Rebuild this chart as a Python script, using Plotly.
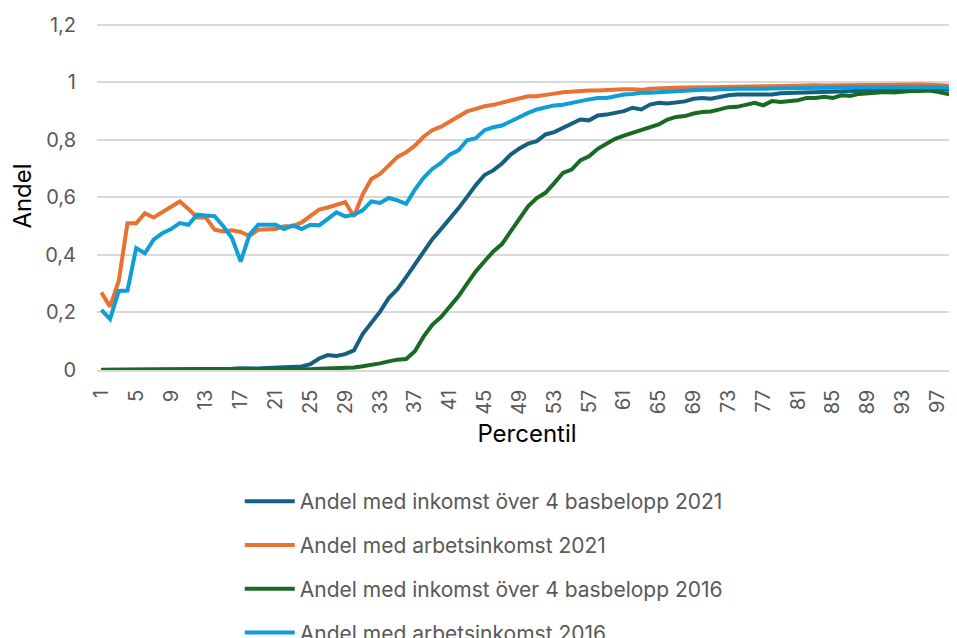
import plotly.graph_objects as go

percentil = list(range(1, 101))

inkomst_4bb_2021 = [
    0.001, 0.001, 0.001, 0.001, 0.001, 0.001, 0.001, 0.001, 0.002, 0.002,
    0.003, 0.002, 0.003, 0.003, 0.004, 0.004, 0.006, 0.005, 0.005, 0.007,
    0.008, 0.008, 0.010, 0.012, 0.020, 0.040, 0.052, 0.049, 0.055, 0.068,
    0.125, 0.163, 0.203, 0.250, 0.281, 0.323, 0.368, 0.410, 0.455, 0.490,
    0.525, 0.562, 0.602, 0.643, 0.678, 0.694, 0.718, 0.749, 0.770, 0.787,
    0.796, 0.819, 0.827, 0.842, 0.854, 0.871, 0.868, 0.885, 0.888, 0.894,
    0.900, 0.912, 0.906, 0.923, 0.929, 0.927, 0.931, 0.934, 0.943, 0.946,
    0.943, 0.950, 0.955, 0.958, 0.958, 0.957, 0.960, 0.958, 0.962, 0.963,
    0.965, 0.966, 0.967, 0.966, 0.968, 0.970, 0.970, 0.972, 0.973, 0.974,
    0.975, 0.976, 0.976, 0.977, 0.978, 0.978, 0.977, 0.976, 0.973, 0.968,
]

arbetsinkomst_2021 = [
    0.270, 0.220, 0.310, 0.510, 0.510, 0.545, 0.530, 0.550, 0.568, 0.586,
    0.560, 0.530, 0.530, 0.488, 0.482, 0.486, 0.480, 0.466, 0.488, 0.490,
    0.490, 0.500, 0.500, 0.513, 0.537, 0.558, 0.565, 0.573, 0.584, 0.534,
    0.610, 0.664, 0.682, 0.711, 0.741, 0.757, 0.780, 0.811, 0.834, 0.846,
    0.865, 0.883, 0.899, 0.908, 0.917, 0.922, 0.929, 0.938, 0.946, 0.952,
    0.952, 0.958, 0.961, 0.966, 0.969, 0.969, 0.972, 0.972, 0.974, 0.974,
    0.976, 0.976, 0.974, 0.978, 0.980, 0.980, 0.981, 0.982, 0.984, 0.983,
    0.983, 0.984, 0.986, 0.986, 0.985, 0.986, 0.987, 0.987, 0.988, 0.988,
    0.988, 0.989, 0.990, 0.989, 0.990, 0.990, 0.991, 0.990, 0.991, 0.991,
    0.992, 0.991, 0.992, 0.992, 0.993, 0.992, 0.991, 0.989, 0.985, 0.978,
]

inkomst_4bb_2016 = [
    0.000, 0.000, 0.000, 0.000, 0.000, 0.000, 0.000, 0.000, 0.000, 0.000,
    0.001, 0.001, 0.001, 0.001, 0.001, 0.001, 0.001, 0.001, 0.001, 0.001,
    0.001, 0.002, 0.002, 0.002, 0.003, 0.004, 0.005, 0.006, 0.007, 0.009,
    0.013, 0.017, 0.023, 0.030, 0.036, 0.038, 0.065, 0.116, 0.157, 0.184,
    0.221, 0.256, 0.300, 0.343, 0.378, 0.412, 0.438, 0.482, 0.523, 0.569,
    0.598, 0.616, 0.650, 0.685, 0.697, 0.729, 0.743, 0.769, 0.787, 0.804,
    0.815, 0.825, 0.834, 0.842, 0.854, 0.871, 0.880, 0.883, 0.892, 0.897,
    0.899, 0.906, 0.914, 0.915, 0.922, 0.929, 0.920, 0.935, 0.932, 0.935,
    0.938, 0.946, 0.946, 0.950, 0.946, 0.955, 0.953, 0.960, 0.962, 0.965,
    0.967, 0.965, 0.968, 0.970, 0.970, 0.972, 0.967, 0.960, 0.955, 0.940,
]

arbetsinkomst_2016 = [
    0.209, 0.177, 0.275, 0.276, 0.424, 0.406, 0.453, 0.476, 0.490, 0.511,
    0.505, 0.540, 0.537, 0.535, 0.500, 0.459, 0.377, 0.470, 0.505, 0.505,
    0.505, 0.490, 0.503, 0.490, 0.505, 0.503, 0.525, 0.548, 0.534, 0.540,
    0.555, 0.586, 0.581, 0.598, 0.590, 0.578, 0.627, 0.668, 0.699, 0.720,
    0.749, 0.764, 0.799, 0.806, 0.834, 0.844, 0.850, 0.865, 0.880, 0.894,
    0.906, 0.912, 0.920, 0.922, 0.927, 0.935, 0.941, 0.946, 0.946, 0.952,
    0.958, 0.960, 0.964, 0.964, 0.966, 0.967, 0.969, 0.972, 0.972, 0.974,
    0.974, 0.976, 0.977, 0.978, 0.978, 0.977, 0.978, 0.979, 0.979, 0.980,
    0.980, 0.981, 0.981, 0.982, 0.981, 0.982, 0.983, 0.983, 0.984, 0.984,
    0.984, 0.985, 0.985, 0.985, 0.986, 0.985, 0.984, 0.982, 0.978, 0.970,
]

series = [
    ("Andel med inkomst över 4 basbelopp 2021", inkomst_4bb_2021, "#156082"),
    ("Andel med arbetsinkomst 2021", arbetsinkomst_2021, "#E97132"),
    ("Andel med inkomst över 4 basbelopp 2016", inkomst_4bb_2016, "#196B24"),
    ("Andel med arbetsinkomst 2016", arbetsinkomst_2016, "#0F9ED5"),
]

FONT = "Inter"
GREY = "#595959"

fig = go.Figure()
for i, (name, values, color) in enumerate(series):
    fig.add_trace(
        go.Scatter(
            x=percentil,
            y=values,
            mode="lines",
            name=name,
            legendgroup=f"g{i}",
            line=dict(color=color, width=4),
        )
    )

# the page body adds an 8px offset, so the figure is 8px smaller than the window;
# the legend runs past the bottom edge, so margins must not auto-expand
fig.update_layout(
    width=949,
    height=630,
    margin=dict(l=89, r=0, t=14.1, b=268, autoexpand=False),
    paper_bgcolor="white",
    plot_bgcolor="white",
    separators=", ",
    font=dict(family=FONT, color=GREY, size=20),
    showlegend=True,
    legend=dict(
        orientation="v",
        x=0.166,
        xanchor="left",
        y=-0.319,
        yanchor="top",
        itemwidth=50,
        tracegroupgap=13.5,
        font=dict(family=FONT, size=21, color=GREY),
        bgcolor="rgba(0,0,0,0)",
    ),
)

fig.update_xaxes(
    range=[0.5, 99.25],
    tickmode="array",
    tickvals=list(range(1, 101, 4)),
    tickangle=-90,
    showgrid=False,
    zeroline=False,
    showline=True,
    linecolor="#d9d9d9",
    linewidth=1.5,
    ticks="",
    ticklabelstandoff=10,
    tickfont=dict(size=20, color=GREY),
    title=dict(text="Percentil", font=dict(size=24, color="#000000"), standoff=11),
    automargin=False,
)

# a little headroom so the 1,2 gridline is still drawn
fig.update_yaxes(
    range=[0, 1.21],
    tickvals=[0, 0.2, 0.4, 0.6, 0.8, 1.0, 1.2],
    showgrid=True,
    gridcolor="#d9d9d9",
    gridwidth=1.5,
    zeroline=False,
    showline=False,
    ticks="",
    ticklabelstandoff=20,
    tickfont=dict(size=20, color=GREY),
    title=dict(text="Andel", font=dict(size=24, color="#000000"), standoff=12),
    automargin=False,
)

fig.write_html("out.html")
